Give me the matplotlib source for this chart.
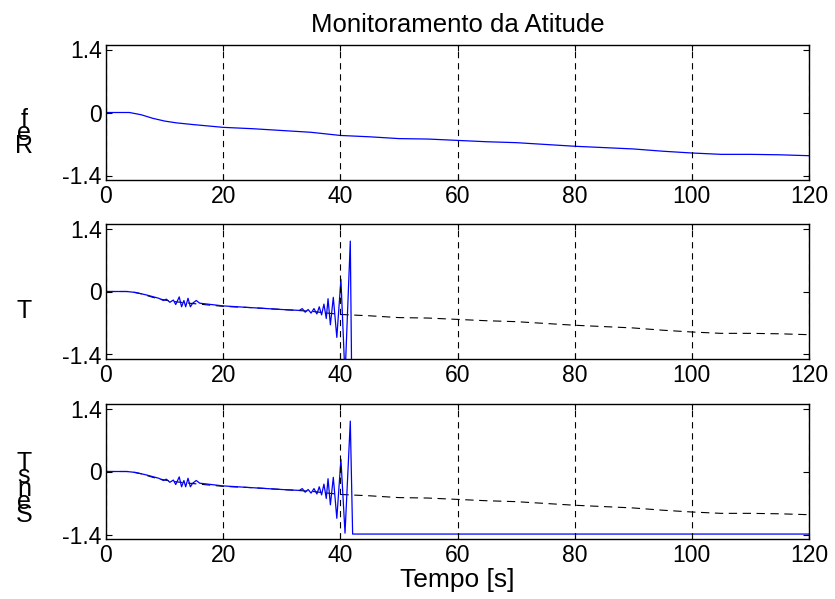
import matplotlib
matplotlib.use("Agg")
import matplotlib.pyplot as plt

plt.rcParams['font.family'] = ['Liberation Sans', 'DejaVu Sans']
plt.rcParams['lines.scale_dashes'] = False

# ---- data ----
t_ref = [0, 2, 4, 6, 8, 10, 12, 15, 20, 25, 30, 35, 40, 45, 50, 55, 60, 65, 70,
         75, 80, 85, 90, 95, 100, 105, 110, 115, 120]
v_ref = [0, 0, 0, -0.05, -0.13, -0.19, -0.23, -0.27, -0.33, -0.36, -0.40, -0.44,
         -0.51, -0.54, -0.58, -0.59, -0.62, -0.65, -0.67, -0.71, -0.75, -0.78,
         -0.81, -0.86, -0.90, -0.93, -0.93, -0.94, -0.96]

t_sig = [0, 2, 3.5, 5, 7, 9, 9.8, 10.3, 10.9, 11.5, 11.9, 12.5, 12.9, 13.3, 13.6,
         14.0, 14.4, 14.8, 15.4, 16.0, 18, 20, 25, 30, 33, 33.5, 34.0, 34.5, 35.0,
         35.5, 36.0, 36.4, 36.8, 37.2, 37.6, 37.9, 38.3, 38.8, 39.4, 40.1, 40.8,
         41.7, 42.1, 120]
v_T = [0, 0, 0, -0.02, -0.08, -0.15, -0.20, -0.17, -0.24, -0.19, -0.29, -0.12,
       -0.34, -0.20, -0.34, -0.15, -0.34, -0.26, -0.20, -0.26, -0.29, -0.32, -0.36,
       -0.40, -0.42, -0.38, -0.46, -0.40, -0.48, -0.38, -0.50, -0.34, -0.52, -0.28,
       -0.60, -0.16, -0.74, -0.13, -1.02, 0.27, -1.90, 1.12, -4.0, -4.0]
v_S = [0, 0, 0, -0.02, -0.08, -0.15, -0.20, -0.17, -0.24, -0.19, -0.29, -0.12,
       -0.34, -0.20, -0.34, -0.15, -0.34, -0.26, -0.20, -0.26, -0.29, -0.32, -0.36,
       -0.40, -0.42, -0.38, -0.46, -0.40, -0.48, -0.38, -0.50, -0.34, -0.52, -0.28,
       -0.60, -0.16, -0.74, -0.13, -1.04, 0.27, -1.37, 1.12, -1.39, -1.39]

x_ticks = [0, 20, 40, 60, 80, 100, 120]
y_ticks = [-1.4, 0, 1.4]
y_ticklabels = ['-1.4', '0', '1.4']
title = 'Monitoramento da Atitude'
xlabel = 'Tempo [s]'
ylabels = [['R', 'e', 'f'], ['T'], ['S', 'e', 'n', 's', 'T']]

W, H = 835, 599
fig = plt.figure(figsize=(W / 100, H / 100), dpi=100)

left = 106 / W
width = (809 - 106) / W
tops = [45, 224, 404]
ah = 135
FS = 16.5
blue = '#0000ff'

axes = []
for top in tops:
    ax = fig.add_axes([left, (H - top - ah) / H, width, ah / H])
    axes.append(ax)

for i, ax in enumerate(axes):
    ax.set_xlim(0, 120)
    ax.set_ylim(-1.5, 1.5)
    ax.set_xticks(x_ticks)
    ax.set_xticklabels([str(v) for v in x_ticks])
    ax.set_yticks(y_ticks)
    ax.set_yticklabels(y_ticklabels)
    ax.tick_params(direction='in', length=4, width=0.8, top=True, right=True,
                   labelsize=FS)
    ax.tick_params(axis='x', pad=3.5)
    ax.tick_params(axis='y', pad=3)
    for s in ax.spines.values():
        s.set_linewidth(1.0)
    ax.xaxis.grid(True, color='black', linestyle=(0, (4.5, 3.5)), linewidth=0.8)
    ax.yaxis.grid(False)
    ax.set_axisbelow(False)

axes[0].plot(t_ref, v_ref, color=blue, lw=0.9)
axes[1].plot(t_ref, v_ref, color='black', lw=0.8, linestyle=(0, (6, 4)))
axes[1].plot(t_sig, v_T, color=blue, lw=0.9)
axes[2].plot(t_ref, v_ref, color='black', lw=0.8, linestyle=(0, (6, 4)))
axes[2].plot(t_sig, v_S, color=blue, lw=0.9)

axes[0].set_title(title, fontsize=18.5, pad=9)
axes[2].set_xlabel(xlabel, fontsize=19, labelpad=1)

# stacked upright letters as in the original y labels (baseline pixel positions)
label_bases = [153, 318, 522]
step = 13
for letters, base in zip(ylabels, label_bases):
    for k, ch in enumerate(letters):
        y_px = base - k * step
        fig.text(24 / W, 1 - y_px / H, ch, fontsize=18, ha='center',
                 va='baseline')

fig.savefig('out.png', dpi=100)
